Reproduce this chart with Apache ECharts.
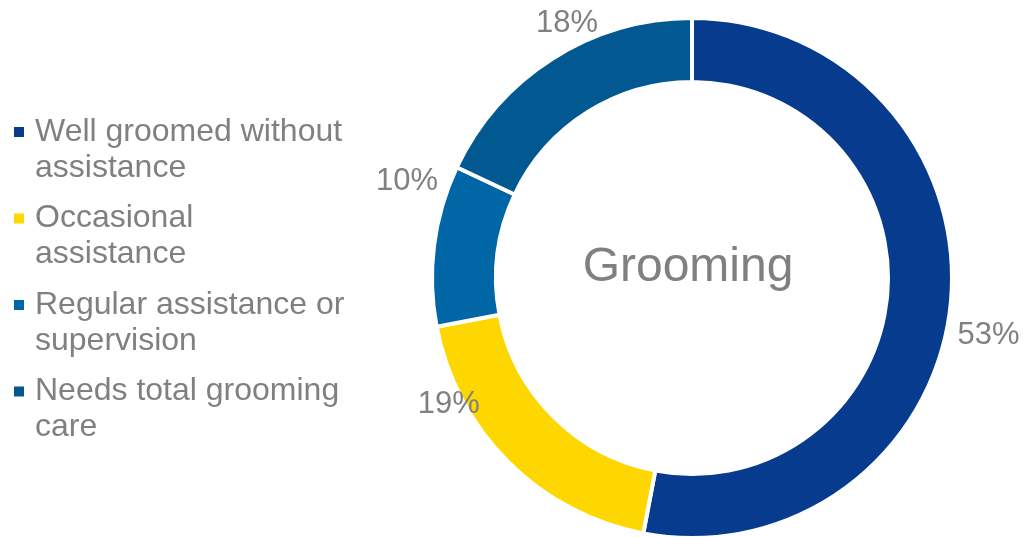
<!DOCTYPE html>
<html>
<head>
<meta charset="utf-8">
<script src="https://cdn.jsdelivr.net/npm/echarts@6/dist/echarts.min.js"></script>
<style>
  html, body { margin: 0; padding: 0; background: #ffffff; }
  #chart { width: 1023px; height: 537px; }
</style>
</head>
<body>
<div id="chart"></div>
<script>
// Grooming ability breakdown (percent of respondents)
const categories = [
  'Well groomed without assistance',
  'Occasional assistance',
  'Regular assistance or supervision',
  'Needs total grooming care'
];
const legendLines = [
  ['Well groomed without', 'assistance'],
  ['Occasional', 'assistance'],
  ['Regular assistance or', 'supervision'],
  ['Needs total grooming', 'care']
];
const values = [53, 19, 10, 18];
const sliceColors = ['#063b8d', '#fed700', '#0166a6', '#025890'];
const centerTitle = 'Grooming';

// Where each percentage label sits around the ring: [angle in degrees, distance from centre]
const labelSpots = [[-11.0, 302], [-152.6, 274], [161.2, 301], [116.1, 284]];

const CX = 692, CY = 278;
const FONT = '"Liberation Sans", Arial, sans-serif';
const GREY = '#808080';

const chart = echarts.init(document.getElementById('chart'), null, { renderer: 'canvas' });

chart.setOption({
  backgroundColor: '#ffffff',
  animation: false,
  color: sliceColors,
  legend: {
    orient: 'vertical',
    left: 14,
    top: 78,
    padding: 0,
    itemWidth: 10,
    itemHeight: 10,
    itemGap: -21.5,
    icon: 'rect',
    selectedMode: false,
    itemStyle: { borderWidth: 0 },
    data: categories,
    // a blank first line keeps the marker level with the first line of text
    formatter: function (name) {
      const lines = legendLines[categories.indexOf(name)];
      return '\n' + lines.map(function (l) { return '{t|' + l + '}'; }).join('\n');
    },
    textStyle: {
      fontFamily: FONT,
      fontSize: 32,
      lineHeight: 36,
      color: GREY,
      rich: {
        t: {
          fontFamily: FONT,
          fontSize: 32,
          lineHeight: 36,
          color: GREY,
          padding: [0, 0, 0, 6]
        }
      }
    }
  },
  graphic: [{
    type: 'text',
    x: CX - 4,
    y: CY - 10,
    style: {
      text: centerTitle,
      fontFamily: FONT,
      fontSize: 48,
      fill: GREY,
      align: 'center',
      verticalAlign: 'middle'
    }
  }],
  series: [{
    type: 'pie',
    center: [CX, CY],
    radius: [196, 260],
    startAngle: 90,
    clockwise: true,
    avoidLabelOverlap: false,
    itemStyle: { borderColor: '#ffffff', borderWidth: 4 },
    label: {
      show: true,
      position: 'outside',
      formatter: '{c}%',
      fontFamily: FONT,
      fontSize: 31,
      color: GREY
    },
    labelLine: { show: false },
    labelLayout: function (params) {
      const spot = labelSpots[params.dataIndex];
      const a = spot[0] * Math.PI / 180;
      return {
        x: CX + spot[1] * Math.cos(a),
        y: CY - spot[1] * Math.sin(a),
        align: 'center',
        verticalAlign: 'middle'
      };
    },
    emphasis: { disabled: true },
    data: categories.map(function (name, i) {
      return { name: name, value: values[i] };
    })
  }]
});
</script>
</body>
</html>
